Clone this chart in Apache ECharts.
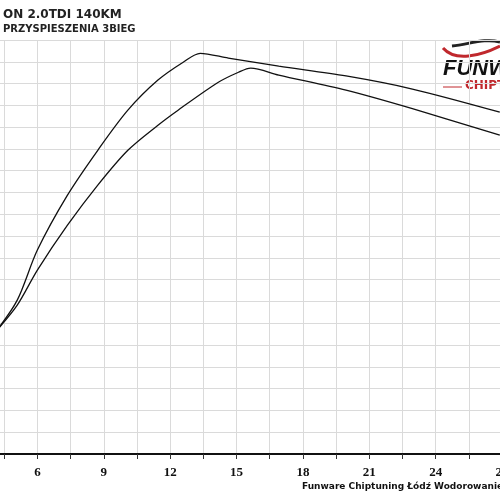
<!DOCTYPE html><html><head><meta charset="utf-8"><script src="https://cdn.jsdelivr.net/npm/echarts@6/dist/echarts.min.js"></script></head><body style="margin:0"><div id="c" style="width:500px;height:500px"></div><script>
const xA=[4.18,5.09,6,7.36,8.73,10.09,11.45,12.59,13.36,14.63,16.91,19.95,22.95,26.9];
const yA=[5.69,7.06,9.36,11.88,13.94,15.78,17.16,17.98,18.39,18.17,17.8,17.35,16.75,15.69];
const xB=[4.18,5.09,6,7.36,8.73,10.09,11.45,12.36,14.18,15.09,15.64,16.91,19.95,22.95,26.9];
const yB=[5.69,6.83,8.44,10.5,12.34,13.94,15.09,15.78,17.06,17.52,17.71,17.39,16.70,15.85,14.63];
const title1="ON 2.0TDI 140KM", title2="PRZYSPIESZENIA 3BIEG";
const footer="Funware Chiptuning Łódź Wodorowanie Tel. 7";
const ch=echarts.init(document.getElementById('c'));
const mk=(xs,ys)=>xs.map((x,i)=>[x,ys[i]]);
ch.setOption({animation:false,
grid:{left:-29,right:-2,top:40,bottom:46,outerBoundsMode:'none',containLabel:false},
xAxis:{type:'value',min:3,max:27,interval:1.5,
 axisLine:{lineStyle:{color:'#111',width:2}},axisTick:{show:true,length:5,lineStyle:{color:'#333'}},
 axisLabel:{color:'#111',fontFamily:'Liberation Serif',fontWeight:'bold',fontSize:13,margin:12,
  formatter:v=>(v%3===0&&v>3)?String(v):''},
 splitLine:{lineStyle:{color:'#dadada'}}},
yAxis:{type:'value',min:0,max:19,interval:1,axisLine:{show:false},axisTick:{show:false},axisLabel:{show:false},
 splitLine:{lineStyle:{color:'#dadada'}}},
series:[{type:'line',data:mk(xA,yA),smooth:0.3,symbol:'none',lineStyle:{color:'#111',width:1.3}},
{type:'line',data:mk(xB,yB),smooth:0.3,symbol:'none',lineStyle:{color:'#111',width:1.3}}],
graphic:[
{type:'text',left:3,top:9,style:{text:title1,font:'bold 12px DejaVu Sans',fill:'#222'}},
{type:'text',left:3,top:24,style:{text:title2,font:'bold 10px DejaVu Sans',fill:'#222'}},
{type:'text',left:302,top:482,style:{text:footer,font:'bold 9px DejaVu Sans',fill:'#111'}},
{type:'rect',shape:{x:440,y:38,width:60,height:62},style:{fill:'#fff'}},
{type:'bezierCurve',shape:{x1:443,y1:48,x2:500,y2:46,cpx1:455,cpy1:62,cpx2:480,cpy2:56},style:{stroke:'#c0282d',lineWidth:3,fill:null}},
{type:'bezierCurve',shape:{x1:452,y1:46,x2:500,y2:42,cpx1:470,cpy1:44,cpx2:485,cpy2:38},style:{stroke:'#222',lineWidth:3,fill:null}},
{type:'text',left:443,top:58,style:{text:'FUNWARE',font:'italic bold 22px Liberation Sans',fill:'#111'}},
{type:'line',shape:{x1:443,y1:87,x2:462,y2:87},style:{stroke:'#c0282d',lineWidth:1}},
{type:'text',left:465,top:80,style:{text:'CHIPTUNING',font:'bold 12px DejaVu Sans',fill:'#c0282d'}}
]});
</script></body></html>
